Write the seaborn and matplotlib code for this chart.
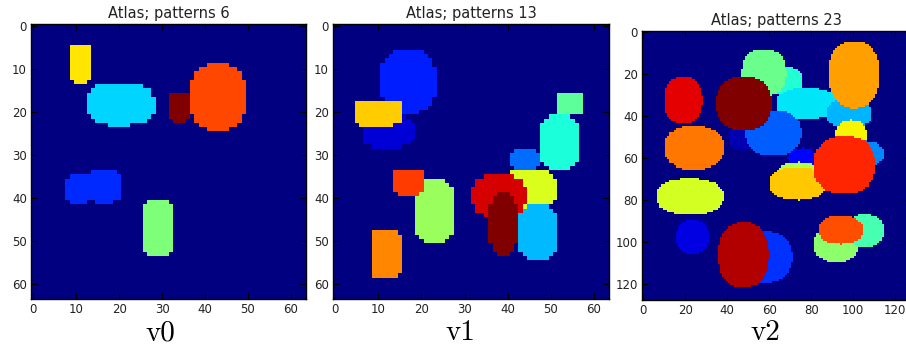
import numpy as np
import matplotlib
matplotlib.use("Agg")
import matplotlib.pyplot as plt
import seaborn as sns

# ---------------- data ----------------
titles = ["Atlas; patterns 6", "Atlas; patterns 13", "Atlas; patterns 23"]
captions = ["v0", "v1", "v2"]
grid_sizes = [64, 64, 128]
n_patterns = [6, 13, 23]
tick_steps = [10, 10, 20]

# each blob: label, centre (col,row), half-widths, shape exponent (2 = ellipse)
v0_label = [4, 2, 6, 5, 1, 1, 3]
v0_cx = [11.0, 20.3, 34.0, 43.0, 10.6, 16.5, 28.9]
v0_cy = [8.7, 18.1, 18.7, 16.5, 38.0, 37.4, 46.9]
v0_rx = [2.6, 8.0, 2.5, 6.6, 3.2, 4.0, 3.5]
v0_ry = [4.5, 5.0, 3.6, 8.0, 3.3, 3.9, 6.5]
v0_p = [4, 2.5, 4, 2.2, 3, 3, 4]

v1_label = [1, 2, 9, 7, 11, 10, 6, 5, 3, 8, 4, 12, 13]
v1_cx = [12.3, 16.9, 9.9, 22.9, 16.9, 11.9, 54.6, 52.0, 44.0, 45.0, 47.0, 38.0, 39.0]
v1_cy = [24.3, 12.7, 20.2, 43.0, 36.3, 53.0, 17.8, 26.8, 31.0, 37.9, 48.0, 39.5, 46.0]
v1_rx = [6.0, 6.6, 5.6, 4.6, 3.5, 3.6, 2.9, 4.5, 3.6, 6.5, 4.6, 6.4, 3.5]
v1_ry = [4.0, 7.6, 3.0, 7.6, 3.0, 5.6, 2.6, 6.5, 2.6, 4.6, 6.6, 5.0, 7.5]
v1_p = [3, 2.3, 4, 3, 4, 5, 6, 3, 3, 3, 3, 2.5, 2.5]

v2_label = [9, 11, 8, 7, 17, 21, 1, 5, 23, 18, 15, 6, 3, 13, 16, 20,
            14, 2, 4, 22, 12, 10, 19]
v2_cx = [68.0, 57.5, 77.6, 98.0, 100.4, 19.1, 47.0, 62.0, 48.0, 24.3, 99.0, 106.0,
         76.0, 74.0, 73.6, 95.7, 22.2, 23.4, 57.0, 47.9, 92.0, 105.8, 94.0]
v2_cy = [23.5, 19.4, 34.0, 38.8, 20.1, 32.5, 50.0, 48.0, 34.0, 55.0, 50.0, 58.0,
         60.0, 71.0, 72.0, 63.3, 78.3, 97.5, 107.0, 106.1, 101.0, 94.6, 94.2]
v2_rx = [8.0, 10.6, 14.5, 11.0, 12.2, 9.0, 6.0, 13.3, 13.3, 14.1, 7.5, 8.5,
         7.0, 12.0, 13.4, 14.7, 16.2, 7.9, 14.2, 12.2, 10.5, 8.5, 10.4]
v2_ry = [7.0, 11.2, 7.4, 6.6, 16.0, 11.3, 6.0, 10.8, 12.9, 10.5, 8.0, 6.0,
         5.0, 9.0, 7.9, 13.7, 8.5, 7.9, 12.5, 15.4, 8.7, 7.9, 6.8]
v2_p = [2.3] * 23

panels = [
    (v0_label, v0_cx, v0_cy, v0_rx, v0_ry, v0_p),
    (v1_label, v1_cx, v1_cy, v1_rx, v1_ry, v1_p),
    (v2_label, v2_cx, v2_cy, v2_rx, v2_ry, v2_p),
]


def rasterize(size, labels, cx, cy, rx, ry, p):
    rows, cols = np.mgrid[0:size, 0:size]
    grid = np.zeros((size, size))
    for lab, x, y, a, b, e in zip(labels, cx, cy, rx, ry, p):
        mask = np.abs((cols - x) / a) ** e + np.abs((rows - y) / b) ** e <= 1
        grid[mask] = lab
    return grid


# ---------------- figure ----------------
W, H = 906, 347
fig = plt.figure(figsize=(W / 100, H / 100), dpi=100)
# axes boxes in pixels: left, top, width, height
boxes = [(31, 24, 275, 275), (333, 24, 276, 275), (642, 31, 269, 269)]
caption_x = [160, 460, 765]

for i in range(3):
    l, t, w, h = boxes[i]
    ax = fig.add_axes([l / W, 1 - (t + h) / H, w / W, h / H])
    size = grid_sizes[i]
    grid = rasterize(size, *panels[i])
    sns.heatmap(grid, ax=ax, cmap="jet", vmin=0, vmax=n_patterns[i], cbar=False,
                xticklabels=False, yticklabels=False)
    ticks = np.arange(0, size, tick_steps[i])
    ax.set_xticks(ticks + 0.5)
    ax.set_xticklabels([str(v) for v in ticks], rotation=0)
    ax.set_yticks(ticks + 0.5)
    ax.set_yticklabels([str(v) for v in ticks], rotation=0)
    ax.set_xlim(0, size)
    ax.set_ylim(size, 0)
    for s in ax.spines.values():
        s.set_visible(True)
        s.set_color("black")
        s.set_linewidth(1.0)
    ax.tick_params(direction="in", top=True, right=True, length=4, width=0.8,
                   color="black", labelsize=8.5, pad=3, labelcolor="#222222")
    ax.set_title(titles[i], fontsize=10.5, pad=4, color="#222222")
    fig.text(caption_x[i] / W, 1 - 333 / H, captions[i], ha="center", va="center",
             fontsize=21, family=["cmr10", "DejaVu Serif"])

fig.savefig("out.png", dpi=100)
